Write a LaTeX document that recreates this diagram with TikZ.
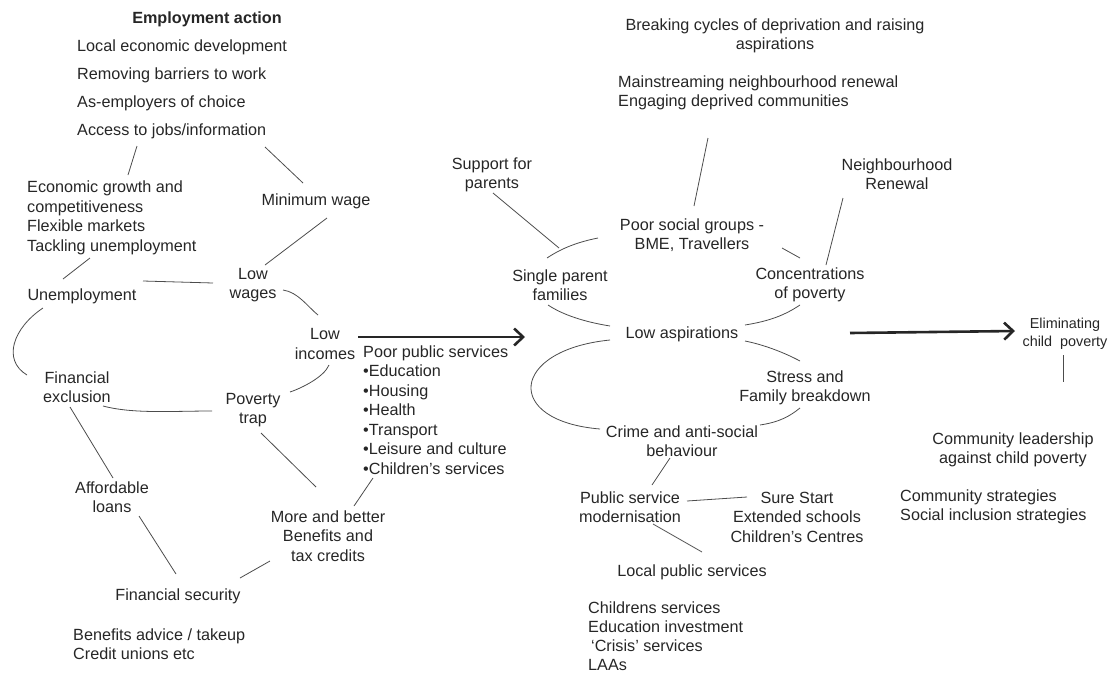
\documentclass[tikz,border=0pt]{standalone}
\usepackage{fontspec}
\setmainfont{Liberation Sans}
\usetikzlibrary{arrows.meta}

\begin{document}
\begin{tikzpicture}[
      x=1pt, y=-1pt,
      lbl/.style={inner sep=0pt, align=center, text=black!85,
                  font=\fontsize{16.2}{19.5}\selectfont},
      lst/.style={lbl, align=left, anchor=west},
      lnk/.style={draw=black!70, line width=0.8pt},
      arr/.style={-{Straight Barb[length=9pt, width=17pt]}, line width=2.6pt,
                  draw=black!85}
    ]
    \useasboundingbox (0,0) rectangle (1112,675);

    \node[lbl, font=\fontsize{16.2}{19.5}\selectfont\bfseries] (emptitle) at (207,19) {Employment action};
    \node[lst] (local) at (77,47) {Local economic development};
    \node[lst] (barriers) at (77,75) {Removing barriers to work};
    \node[lst] (asemp) at (77,103) {As-employers of choice};
    \node[lst] (access) at (77,131) {Access to jobs/information};
    \node[lst] (econ) at (27,218) {Economic growth and\\competitiveness\\Flexible markets\\Tackling unemployment};
    \node[lbl] (minwage) at (316,201) {Minimum wage};
    \node[lbl] (lowwages) at (253,285) {Low\\wages};
    \node[lbl] (unemp) at (82,296) {Unemployment};
    \node[lbl] (lowinc) at (325,344) {Low\\incomes};
    \node[lbl] (finexcl) at (77,387) {Financial\\exclusion};
    \node[lbl] (povtrap) at (253,410) {Poverty\\trap};
    \node[lst] (poorpub) at (363,410) {Poor public services\\•Education\\•Housing\\•Health\\•Transport\\•Leisure and culture\\•Children’s services};
    \node[lbl] (afford) at (112,497) {Affordable\\loans};
    \node[lbl] (morebet) at (328,536) {More and better\\Benefits and\\tax credits};
    \node[lbl] (finsec) at (178,596) {Financial security};
    \node[lst] (benadv) at (73,644) {Benefits advice / takeup\\Credit unions etc};

    \node[lbl] (breaking) at (775,36) {Breaking cycles of deprivation and raising\\aspirations};
    \node[lst] (mainstr) at (618,93) {Mainstreaming neighbourhood renewal\\Engaging deprived communities};
    \node[lbl] (support) at (492,175) {Support for\\parents};
    \node[lbl] (neighren) at (897,174) {Neighbourhood\\Renewal};
    \node[lbl] (poorsoc) at (692,235) {Poor social groups -\\BME, Travellers};
    \node[lbl] (singlep) at (560,285) {Single parent\\families};
    \node[lbl] (concent) at (810,285) {Concentrations\\of poverty};
    \node[lbl] (lowasp) at (682,334) {Low aspirations};
    \node[lbl] (stress) at (805,388) {Stress and\\Family breakdown};
    \node[lbl] (crime) at (682,441) {Crime and anti-social\\behaviour};
    \node[lbl] (pubmod) at (630,507) {Public service\\modernisation};
    \node[lbl] (surest) at (797,517) {Sure Start\\Extended schools\\Children’s Centres};
    \node[lbl] (localpub) at (692,572) {Local public services};
    \node[lst, font=\fontsize{16.2}{19}\selectfont] (childsvc) at (588,636) {Childrens services\\Education investment\\\hspace{3pt}‘Crisis’ services\\LAAs};

    \node[lbl, font=\fontsize{14.4}{17.5}\selectfont] (elim) at (1065,334) {Eliminating\\child\ \ poverty};
    \node[lbl] (commlead) at (1013,450) {Community leadership\\against child poverty};
    \node[lst] (commstrat) at (900,507) {Community strategies\\Social inclusion strategies};

    \draw[lnk] ([shift={(60,15)}]access.west) -- ([shift={(101,-43)}]econ.west);
    \draw[lnk] ([shift={(188,16)}]access.west) -- ([shift={(-13,-18)}]minwage.center);
    \draw[lnk] ([shift={(11,17)}]minwage.center) -- ([shift={(12,-20)}]lowwages.center);
    \draw[lnk] ([shift={(63,40)}]econ.west) -- ([shift={(-19,-17)}]unemp.center);
    \draw[lnk] ([shift={(61,-15)}]unemp.center) -- ([shift={(-40,-2)}]lowwages.center);
    \draw[lnk] ([shift={(30,5)}]lowwages.center) .. controls +(15,2) and +(-10,-8) .. ([shift={(-7,-29)}]lowinc.center);
    \draw[lnk] ([shift={(4,21)}]lowinc.center) .. controls +(-5,12) and +(12,-4) .. ([shift={(37,-18)}]povtrap.center);
    \draw[lnk] ([shift={(-39,12)}]unemp.center) .. controls +(-30,20) and +(-25,-15) .. ([shift={(-50,-12)}]finexcl.center);
    \draw[lnk] ([shift={(26,19)}]finexcl.center) .. controls +(30,8) and +(-40,0) .. ([shift={(-41,1)}]povtrap.center);
    \draw[lnk] ([shift={(-7,20)}]finexcl.center) -- ([shift={(1,-19)}]afford.center);
    \draw[lnk] ([shift={(8,23)}]povtrap.center) -- ([shift={(-12,-49)}]morebet.center);
    \draw[lnk] ([shift={(10,68)}]poorpub.west) -- ([shift={(26,-30)}]morebet.center);
    \draw[lnk] ([shift={(27,19)}]afford.center) -- ([shift={(-2,-22)}]finsec.center);
    \draw[lnk] ([shift={(-58,25)}]morebet.center) -- ([shift={(62,-18)}]finsec.center);
    \draw[arr] ([shift={(33,-7)}]lowinc.center) -- ([shift={(-157,3)}]lowasp.center);

    \draw[lnk] ([shift={(90,45)}]mainstr.west) -- ([shift={(2,-29)}]poorsoc.center);
    \draw[lnk] ([shift={(-54,24)}]neighren.center) -- ([shift={(16,-20)}]concent.center);
    \draw[lnk] ([shift={(1,18)}]support.center) -- ([shift={(-1,-37)}]singlep.center);
    \draw[lnk] ([shift={(-13,-27)}]singlep.center) .. controls +(15,-10) and +(-20,4) .. ([shift={(-94,3)}]poorsoc.center);
    \draw[lnk] ([shift={(90,13)}]poorsoc.center) -- ([shift={(-10,-27)}]concent.center);
    \draw[lnk] ([shift={(-12,20)}]singlep.center) .. controls +(15,10) and +(-25,-4) .. ([shift={(-72,-8)}]lowasp.center);
    \draw[lnk] ([shift={(-10,20)}]concent.center) .. controls +(-15,10) and +(25,-4) .. ([shift={(63,-9)}]lowasp.center);
    \draw[lnk] ([shift={(63,7)}]lowasp.center) .. controls +(20,4) and +(-15,-8) .. ([shift={(-5,-27)}]stress.center);
    \draw[lnk] ([shift={(-72,6)}]lowasp.center) .. controls +(-100,10) and +(-97,-8) .. ([shift={(-82,-12)}]crime.center);
    \draw[lnk] ([shift={(-5,20)}]stress.center) .. controls +(-10,8) and +(20,-3) .. ([shift={(78,-16)}]crime.center);
    \draw[lnk] ([shift={(-12,17)}]crime.center) -- ([shift={(22,-22)}]pubmod.center);
    \draw[lnk] ([shift={(57,-6)}]pubmod.center) -- ([shift={(-50,-20)}]surest.center);
    \draw[lnk] ([shift={(23,17)}]pubmod.center) -- ([shift={(10,-20)}]localpub.center);
    \draw[arr] ([shift={(168,-1)}]lowasp.center) -- ([shift={(-50,-3)}]elim.center);
    \draw[lnk] ([shift={(-2,21)}]elim.center) -- ([shift={(50,-68)}]commlead.center);
  \end{tikzpicture}
\end{document}
